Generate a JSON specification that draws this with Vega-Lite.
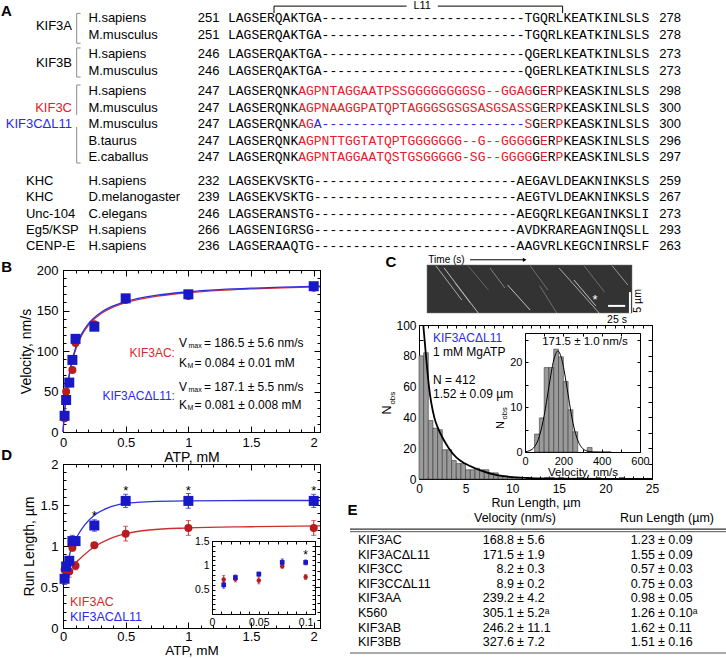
{
"$schema":"https://vega.github.io/schema/vega-lite/v6.json",
"width":726,"height":658,"padding":0,"autosize":{"type":"none"},"background":"#ffffff",
"config":{"view":{"stroke":null},"font":"Liberation Sans",
 "axis":{"grid":false,"labelFont":"Liberation Sans","titleFont":"Liberation Sans","labelColor":"#000","titleColor":"#000","domainColor":"#000","tickColor":"#000","titleFontWeight":"normal","labelOverlap":false,"labelFlush":false,"labelBound":false,"domainWidth":1,"tickWidth":1},
 "text":{"font":"Liberation Sans","color":"#000"}},
"resolve":{"scale":{"x":"independent","y":"independent"},"axis":{"x":"independent","y":"independent"}},
"datasets":{
"seqA":[
{"r":0,"c":0,"s":"LAGSERQAKTGA","k":"k"},{"r":0,"c":12,"s":"--------------------------","k":"k"},{"r":0,"c":38,"s":"TGQRLKEATKINLSLS","k":"k"},
{"r":1,"c":0,"s":"LAGSERQAKTGA","k":"k"},{"r":1,"c":12,"s":"--------------------------","k":"k"},{"r":1,"c":38,"s":"TGQRLKEATKINLSLS","k":"k"},
{"r":2,"c":0,"s":"LAGSERQAKTGA","k":"k"},{"r":2,"c":12,"s":"--------------------------","k":"k"},{"r":2,"c":38,"s":"QGERLKEATKINLSLS","k":"k"},
{"r":3,"c":0,"s":"LAGSERQAKTGA","k":"k"},{"r":3,"c":12,"s":"--------------------------","k":"k"},{"r":3,"c":38,"s":"QGERLKEATKINLSLS","k":"k"},
{"r":4,"c":0,"s":"LAGSERQNK","k":"k"},{"r":4,"c":9,"s":"AGPNTAGGAATPSSGGGGGGGGSG--GGAG","k":"r"},{"r":4,"c":39,"s":"G","k":"k"},{"r":4,"c":40,"s":"E","k":"r"},{"r":4,"c":41,"s":"R","k":"k"},{"r":4,"c":42,"s":"P","k":"r"},{"r":4,"c":43,"s":"KEASKINLSLS","k":"k"},
{"r":5,"c":0,"s":"LAGSERQNK","k":"k"},{"r":5,"c":9,"s":"AGPNAAGGPATQPTAGGGSGSGSASGSASS","k":"r"},{"r":5,"c":39,"s":"G","k":"k"},{"r":5,"c":40,"s":"E","k":"r"},{"r":5,"c":41,"s":"R","k":"k"},{"r":5,"c":42,"s":"P","k":"r"},{"r":5,"c":43,"s":"KEASKINLSLS","k":"k"},
{"r":6,"c":0,"s":"LAGSERQNK","k":"k"},{"r":6,"c":9,"s":"AG","k":"r"},{"r":6,"c":11,"s":"A","k":"b"},{"r":6,"c":12,"s":"--------------------------","k":"b"},{"r":6,"c":38,"s":"S","k":"r"},{"r":6,"c":39,"s":"G","k":"k"},{"r":6,"c":40,"s":"E","k":"r"},{"r":6,"c":41,"s":"R","k":"k"},{"r":6,"c":42,"s":"P","k":"r"},{"r":6,"c":43,"s":"KEASKINLSLS","k":"k"},
{"r":7,"c":0,"s":"LAGSERQNK","k":"k"},{"r":7,"c":9,"s":"AGPNTTGGTATQPTGGGGGGG--G--GGGG","k":"r"},{"r":7,"c":39,"s":"G","k":"k"},{"r":7,"c":40,"s":"E","k":"r"},{"r":7,"c":41,"s":"R","k":"k"},{"r":7,"c":42,"s":"P","k":"r"},{"r":7,"c":43,"s":"KEASKINLSLS","k":"k"},
{"r":8,"c":0,"s":"LAGSERQNK","k":"k"},{"r":8,"c":9,"s":"AGPNTAGGAATQSTGSGGGGG-SG--GGGG","k":"r"},{"r":8,"c":39,"s":"G","k":"k"},{"r":8,"c":40,"s":"E","k":"r"},{"r":8,"c":41,"s":"R","k":"k"},{"r":8,"c":42,"s":"P","k":"r"},{"r":8,"c":43,"s":"KEASKINLSLS","k":"k"},
{"r":9,"c":0,"s":"LAGSEKVSKTG","k":"k"},{"r":9,"c":11,"s":"--------------------------","k":"k"},{"r":9,"c":37,"s":"AEGAVLDEAKNINKSLS","k":"k"},
{"r":10,"c":0,"s":"LAGSEKVSKTG","k":"k"},{"r":10,"c":11,"s":"--------------------------","k":"k"},{"r":10,"c":37,"s":"AEGTVLDEAKNINKSLS","k":"k"},
{"r":11,"c":0,"s":"LAGSERANSTG","k":"k"},{"r":11,"c":11,"s":"--------------------------","k":"k"},{"r":11,"c":37,"s":"AEGQRLKEGANINKSLI","k":"k"},
{"r":12,"c":0,"s":"LAGSENIGRSG","k":"k"},{"r":12,"c":11,"s":"--------------------------","k":"k"},{"r":12,"c":37,"s":"AVDKRAREAGNINQSLL","k":"k"},
{"r":13,"c":0,"s":"LAGSERAAQTG","k":"k"},{"r":13,"c":11,"s":"--------------------------","k":"k"},{"r":13,"c":37,"s":"AAGVRLKEGCNINRSLF","k":"k"}],
"rowsA":[
{"r":0,"sp":"H.sapiens","st":"251","en":"278"},{"r":1,"sp":"M.musculus","st":"251","en":"278"},
{"r":2,"sp":"H.sapiens","st":"246","en":"273"},{"r":3,"sp":"M.musculus","st":"246","en":"273"},
{"r":4,"sp":"H.sapiens","st":"247","en":"298"},{"r":5,"sp":"M.musculus","st":"247","en":"300"},
{"r":6,"sp":"M.musculus","st":"247","en":"300"},{"r":7,"sp":"B.taurus","st":"247","en":"296"},
{"r":8,"sp":"E.caballus","st":"247","en":"297"},{"r":9,"sp":"H.sapiens","st":"232","en":"259"},
{"r":10,"sp":"D.melanogaster","st":"239","en":"267"},{"r":11,"sp":"C.elegans","st":"246","en":"273"},
{"r":12,"sp":"H.sapiens","st":"266","en":"293"},{"r":13,"sp":"H.sapiens","st":"236","en":"263"}],
"genesA":[
{"r":0.5,"g":"KIF3A","k":"k","grp":"t"},{"r":2.5,"g":"KIF3B","k":"k","grp":"t"},
{"r":5,"g":"KIF3C","k":"r","grp":"t"},{"r":6,"g":"KIF3CΔL11","k":"b","grp":"t"},
{"r":9,"g":"KHC","k":"k","grp":"l"},{"r":10,"g":"KHC","k":"k","grp":"l"},
{"r":11,"g":"Unc-104","k":"k","grp":"l"},{"r":12,"g":"Eg5/KSP","k":"k","grp":"l"},
{"r":13,"g":"CENP-E","k":"k","grp":"l"}],
"brA":[
{"x1":-19.4,"x2":-19.4,"y1":-0.28,"y2":1.45},{"x1":-19.4,"x2":-18.9,"y1":-0.28,"y2":-0.28},{"x1":-19.4,"x2":-18.9,"y1":1.45,"y2":1.45},
{"x1":-19.4,"x2":-19.4,"y1":1.69,"y2":3.3},{"x1":-19.4,"x2":-18.9,"y1":1.69,"y2":1.69},{"x1":-19.4,"x2":-18.9,"y1":3.3,"y2":3.3},
{"x1":-19.4,"x2":-19.4,"y1":3.7,"y2":5.45},{"x1":-19.4,"x2":-18.9,"y1":3.7,"y2":3.7},
{"x1":-19.4,"x2":-19.4,"y1":6.18,"y2":8.25},{"x1":-19.4,"x2":-18.9,"y1":8.25,"y2":8.25}],
"l11":[
{"x1":5.9,"x2":22.9,"y1":-0.72,"y2":-0.72},{"x1":26.9,"x2":42.9,"y1":-0.72,"y2":-0.72},
{"x1":5.9,"x2":5.9,"y1":-0.72,"y2":-0.3},{"x1":42.9,"x2":42.9,"y1":-0.72,"y2":-0.3}],
"ptsB":[{"atp":0.0125,"ac":17,"dl":20},{"atp":0.025,"ac":50,"dl":39.5},{"atp":0.05,"ac":60,"dl":61},{"atp":0.075,"ac":76.5,"dl":89},{"atp":0.1,"ac":110,"dl":115},{"atp":0.25,"ac":133,"dl":130},{"atp":0.5,"ac":163,"dl":165},{"atp":1,"ac":168,"dl":170},{"atp":2,"ac":178,"dl":180}],
"fitB":[{"s":0,"ac":0,"dl":0},{"s":0.005,"ac":10.5,"dl":10.9},{"s":0.01,"ac":19.8,"dl":20.6},{"s":0.02,"ac":35.9,"dl":37.0},{"s":0.03,"ac":49.1,"dl":50.6},{"s":0.05,"ac":69.6,"dl":71.4},{"s":0.075,"ac":88.0,"dl":90.0},{"s":0.1,"ac":101.4,"dl":103.4},{"s":0.15,"ac":119.6,"dl":121.5},{"s":0.2,"ac":131.3,"dl":133.2},{"s":0.3,"ac":145.7,"dl":147.3},{"s":0.4,"ac":154.1,"dl":155.6},{"s":0.5,"ac":159.7,"dl":161.0},{"s":0.75,"ac":167.7,"dl":168.9},{"s":1,"ac":172.0,"dl":173.1},{"s":1.25,"ac":174.8,"dl":175.7},{"s":1.5,"ac":176.6,"dl":177.5},{"s":1.75,"ac":178.0,"dl":178.8},{"s":2,"ac":179.0,"dl":179.8},{"s":2.05,"ac":179.2,"dl":180.0}],
"ptsD":[{"atp":0.0125,"ac":0.71,"acE":0.08,"dl":0.6,"dlE":0.07},{"atp":0.025,"ac":0.72,"acE":0.06,"dl":0.75,"dlE":0.05},{"atp":0.05,"ac":0.69,"acE":0.07,"dl":0.82,"dlE":0.04},{"atp":0.075,"ac":0.98,"acE":0.04,"dl":1.06,"dlE":0.07},{"atp":0.1,"ac":0.76,"acE":0.05,"dl":1.06,"dlE":0.05,"sig":1},{"atp":0.25,"ac":1.01,"acE":0.03,"dl":1.25,"dlE":0.07,"sig":1},{"atp":0.5,"ac":1.15,"acE":0.09,"dl":1.55,"dlE":0.08,"sig":1},{"atp":1,"ac":1.22,"acE":0.09,"dl":1.55,"dlE":0.09,"sig":1},{"atp":2,"ac":1.22,"acE":0.09,"dl":1.55,"dlE":0.08,"sig":1}],
"fitDr":[{"s":0,"v":0.7},{"s":0.016,"v":0.72},{"s":0.05,"v":0.75},{"s":0.109,"v":0.81},{"s":0.175,"v":0.9},{"s":0.25,"v":0.99},{"s":0.375,"v":1.09},{"s":0.5,"v":1.15},{"s":0.69,"v":1.195},{"s":1,"v":1.22},{"s":1.5,"v":1.235},{"s":2.05,"v":1.245}],
"fitDb":[{"s":0,"v":0.58},{"s":0.03,"v":0.75},{"s":0.07,"v":0.99},{"s":0.11,"v":1.11},{"s":0.175,"v":1.26},{"s":0.255,"v":1.38},{"s":0.35,"v":1.46},{"s":0.5,"v":1.52},{"s":0.7,"v":1.54},{"s":1,"v":1.55},{"s":1.5,"v":1.555},{"s":2.05,"v":1.555}],
"histC":[{"b":0,"e":0.5,"n":80},{"b":0.5,"e":1,"n":82},{"b":1,"e":1.5,"n":38},{"b":1.5,"e":2,"n":33},{"b":2,"e":2.5,"n":32},{"b":2.5,"e":3,"n":19},{"b":3,"e":3.5,"n":19},{"b":3.5,"e":4,"n":12},{"b":4,"e":4.5,"n":10},{"b":4.5,"e":5,"n":10},{"b":5,"e":5.5,"n":6},{"b":5.5,"e":6,"n":6},{"b":6,"e":6.5,"n":7},{"b":6.5,"e":7,"n":6},{"b":7,"e":7.5,"n":6},{"b":7.5,"e":8,"n":4},{"b":8,"e":8.5,"n":4},{"b":8.5,"e":9,"n":2},{"b":9,"e":9.5,"n":2},{"b":9.5,"e":10,"n":1},{"b":10,"e":10.5,"n":1},{"b":10.5,"e":11,"n":1},{"b":11.5,"e":12,"n":1},{"b":13.5,"e":14,"n":1},{"b":14,"e":14.5,"n":1},{"b":15,"e":15.5,"n":1},{"b":17,"e":17.5,"n":1},{"b":19,"e":19.5,"n":1},{"b":21.5,"e":22,"n":1}],
"expC":[{"x":0.46,"n":100},{"x":0.75,"n":80},{"x":1.07,"n":60},{"x":1.64,"n":40},{"x":2.04,"n":33},{"x":2.6,"n":26},{"x":3.2,"n":20},{"x":4,"n":14},{"x":4.94,"n":10},{"x":6,"n":7},{"x":6.9,"n":5},{"x":8,"n":3},{"x":8.9,"n":2},{"x":10,"n":1.2},{"x":12,"n":0.5},{"x":15,"n":0.2},{"x":20,"n":0.05},{"x":25,"n":0}],
"histCI":[{"b":50,"e":75,"n":4},{"b":75,"e":100,"n":7.6},{"b":100,"e":125,"n":18.8},{"b":125,"e":150,"n":18.8},{"b":150,"e":175,"n":22.9},{"b":175,"e":200,"n":21.2},{"b":200,"e":225,"n":15.7},{"b":225,"e":250,"n":9.4},{"b":250,"e":275,"n":4.5},{"b":325,"e":350,"n":1}],
"gaussCI":[{"v":0,"n":0.06},{"v":25,"n":0.31},{"v":50,"n":1.18},{"v":75,"n":3.5},{"v":100,"n":8.1},{"v":125,"n":14.6},{"v":150,"n":20.5},{"v":171.5,"n":22.5},{"v":195,"n":20.1},{"v":220,"n":14.1},{"v":245,"n":7.6},{"v":270,"n":3.2},{"v":295,"n":1.06},{"v":320,"n":0.27},{"v":350,"n":0.03},{"v":400,"n":0},{"v":450,"n":0}],
"streaks":[{"t1":13,"p1":0.2,"t2":51,"p2":8.4,"i":0.7},{"t1":25,"p1":0.7,"t2":75,"p2":11.5,"i":0.8},{"t1":41,"p1":4.3,"t2":63,"p2":9.1,"i":0.45},{"t1":92,"p1":0.7,"t2":114,"p2":5.5,"i":0.45},{"t1":118,"p1":4.8,"t2":151,"p2":10.8,"i":0.85},{"t1":193,"p1":0.7,"t2":252,"p2":11.5,"i":0.7},{"t1":215,"p1":3.6,"t2":247,"p2":9.8,"i":0.85},{"t1":271,"p1":0.2,"t2":294,"p2":4.8,"i":0.6},{"t1":151,"p1":0.2,"t2":177,"p2":6.0,"i":0.35},{"t1":60,"p1":0.2,"t2":90,"p2":6,"i":0.3},{"t1":165,"p1":5,"t2":190,"p2":11.5,"i":0.35},{"t1":230,"p1":0.2,"t2":260,"p2":6.5,"i":0.35}],
"barsK":[{"t1":265,"t2":290,"p1":9.8,"p2":9.8},{"t1":297,"t2":297,"p1":6.5,"p2":11.5}],
"tableE":[
{"i":0,"name":"KIF3AC","v1":"168.8","v2":"± 5.6","r1":"1.23","r2":"± 0.09"},
{"i":1,"name":"KIF3ACΔL11","v1":"171.5","v2":"± 1.9","r1":"1.55","r2":"± 0.09"},
{"i":2,"name":"KIF3CC","v1":"8.2","v2":"± 0.3","r1":"0.57","r2":"± 0.03"},
{"i":3,"name":"KIF3CCΔL11","v1":"8.9","v2":"± 0.2","r1":"0.75","r2":"± 0.03"},
{"i":4,"name":"KIF3AA","v1":"239.2","v2":"± 4.2","r1":"0.98","r2":"± 0.05"},
{"i":5,"name":"K560","v1":"305.1","v2":"± 5.2ᵃ","r1":"1.26","r2":"± 0.10ᵃ"},
{"i":6,"name":"KIF3AB","v1":"246.2","v2":"± 11.1","r1":"1.62","r2":"± 0.11"},
{"i":7,"name":"KIF3BB","v1":"327.6","v2":"± 7.2","r1":"1.51","r2":"± 0.16"}]
},
"layer":[
{"data":{"name":"seqA"},"mark":{"type":"text","align":"left","baseline":"middle","font":"Liberation Mono","fontSize":13},
 "encoding":{"x":{"field":"c","type":"quantitative","scale":{"domain":[0,54],"range":[228,649.2],"zero":false,"nice":false},"axis":null},
 "y":{"field":"r","type":"quantitative","scale":{"domain":[0,1,2,3,4,8,9,13],"range":[18,34.5,54,71,91,157,181,246],"zero":false,"nice":false},"axis":null},
 "text":{"field":"s"},"color":{"field":"k","type":"nominal","scale":{"domain":["k","r","b"],"range":["#000000","#e3202a","#2828f0"]},"legend":null}}},
{"data":{"name":"rowsA"},"mark":{"type":"text","align":"left","baseline":"middle","fontSize":13},
 "encoding":{"x":{"datum":-17.9,"type":"quantitative","scale":{"domain":[0,54],"range":[228,649.2],"zero":false,"nice":false},"axis":null},
 "y":{"field":"r","type":"quantitative","scale":{"domain":[0,1,2,3,4,8,9,13],"range":[18,34.5,54,71,91,157,181,246],"zero":false,"nice":false},"axis":null},"text":{"field":"sp"}}},
{"data":{"name":"rowsA"},"mark":{"type":"text","align":"right","baseline":"middle","fontSize":13},
 "encoding":{"x":{"datum":-1.1,"type":"quantitative","scale":{"domain":[0,54],"range":[228,649.2],"zero":false,"nice":false},"axis":null},
 "y":{"field":"r","type":"quantitative","scale":{"domain":[0,1,2,3,4,8,9,13],"range":[18,34.5,54,71,91,157,181,246],"zero":false,"nice":false},"axis":null},"text":{"field":"st"}}},
{"data":{"name":"rowsA"},"mark":{"type":"text","align":"left","baseline":"middle","fontSize":13},
 "encoding":{"x":{"datum":55.3,"type":"quantitative","scale":{"domain":[0,54],"range":[228,649.2],"zero":false,"nice":false},"axis":null},
 "y":{"field":"r","type":"quantitative","scale":{"domain":[0,1,2,3,4,8,9,13],"range":[18,34.5,54,71,91,157,181,246],"zero":false,"nice":false},"axis":null},"text":{"field":"en"}}},
{"data":{"name":"genesA"},"transform":[{"filter":"datum.grp == 't'"}],"mark":{"type":"text","align":"right","baseline":"middle","fontSize":13},
 "encoding":{"x":{"datum":-20,"type":"quantitative","scale":{"domain":[0,54],"range":[228,649.2],"zero":false,"nice":false},"axis":null},
 "y":{"field":"r","type":"quantitative","scale":{"domain":[0,1,2,3,4,8,9,13],"range":[18,34.5,54,71,91,157,181,246],"zero":false,"nice":false},"axis":null},"text":{"field":"g"},
 "color":{"field":"k","type":"nominal","scale":{"domain":["k","r","b"],"range":["#000000","#e3202a","#2828f0"]},"legend":null}}},
{"data":{"name":"genesA"},"transform":[{"filter":"datum.grp == 'l'"}],"mark":{"type":"text","align":"left","baseline":"middle","fontSize":13},
 "encoding":{"x":{"datum":-25.9,"type":"quantitative","scale":{"domain":[0,54],"range":[228,649.2],"zero":false,"nice":false},"axis":null},
 "y":{"field":"r","type":"quantitative","scale":{"domain":[0,1,2,3,4,8,9,13],"range":[18,34.5,54,71,91,157,181,246],"zero":false,"nice":false},"axis":null},"text":{"field":"g"}}},
{"data":{"name":"brA"},"mark":{"type":"rule","color":"#8a8a8a","strokeWidth":1},
 "encoding":{"x":{"field":"x1","type":"quantitative","scale":{"domain":[0,54],"range":[228,649.2],"zero":false,"nice":false},"axis":null},"x2":{"field":"x2"},
 "y":{"field":"y1","type":"quantitative","scale":{"domain":[0,1,2,3,4,8,9,13],"range":[18,34.5,54,71,91,157,181,246],"zero":false,"nice":false},"axis":null},"y2":{"field":"y2"}}},
{"data":{"name":"l11"},"mark":{"type":"rule","color":"#000","strokeWidth":1},
 "encoding":{"x":{"field":"x1","type":"quantitative","scale":{"domain":[0,54],"range":[228,649.2],"zero":false,"nice":false},"axis":null},"x2":{"field":"x2"},
 "y":{"field":"y1","type":"quantitative","scale":{"domain":[0,1,2,3,4,8,9,13],"range":[18,34.5,54,71,91,157,181,246],"zero":false,"nice":false},"axis":null},"y2":{"field":"y2"}}},
{"data":{"values":[{}]},"mark":{"type":"text","text":"L11","align":"center","baseline":"middle","fontSize":11},
 "encoding":{"x":{"datum":24.9,"type":"quantitative","scale":{"domain":[0,54],"range":[228,649.2],"zero":false,"nice":false},"axis":null},
 "y":{"datum":-0.735,"type":"quantitative","scale":{"domain":[0,1,2,3,4,8,9,13],"range":[18,34.5,54,71,91,157,181,246],"zero":false,"nice":false},"axis":null}}},
{"data":{"values":[{}]},"mark":{"type":"text","text":"A","align":"center","baseline":"middle","fontSize":15,"fontWeight":"bold"},
 "encoding":{"x":{"datum":-28.4,"type":"quantitative","scale":{"domain":[0,54],"range":[228,649.2],"zero":false,"nice":false},"axis":null},
 "y":{"datum":-0.4,"type":"quantitative","scale":{"domain":[0,1,2,3,4,8,9,13],"range":[18,34.5,54,71,91,157,181,246],"zero":false,"nice":false},"axis":null}}},

{"data":{"name":"fitB"},"mark":{"type":"line","color":"#d03030","strokeWidth":1.3,"interpolate":"monotone"},
 "encoding":{"x":{"field":"s","type":"quantitative","scale":{"domain":[0,2.05],"range":[63,320],"zero":false,"nice":false},"axis":{"orient":"bottom","offset":-226,"values":[0,0.1,0.2,0.3,0.4,0.5,0.6,0.7,0.8,0.9,1,1.1,1.2,1.3,1.4,1.5,1.6,1.7,1.8,1.9,2],"labels":false,"title":null,"tickSize":-3}},
 "y":{"field":"ac","type":"quantitative","scale":{"domain":[0,200],"range":[432,270],"zero":false,"nice":false},"axis":{"orient":"left","offset":-63,"values":[0,10,20,30,40,50,60,70,80,90,100,110,120,130,140,150,160,170,180,190,200],"labels":false,"title":null,"tickSize":-3}}}},
{"data":{"name":"fitB"},"mark":{"type":"line","color":"#2f2fe0","strokeWidth":1.3,"interpolate":"monotone"},
 "encoding":{"x":{"field":"s","type":"quantitative","scale":{"domain":[0,2.05],"range":[63,320],"zero":false,"nice":false},"axis":{"orient":"top","offset":-270,"values":[0,0.1,0.2,0.3,0.4,0.5,0.6,0.7,0.8,0.9,1,1.1,1.2,1.3,1.4,1.5,1.6,1.7,1.8,1.9,2],"labels":false,"title":null,"tickSize":-3}},
 "y":{"field":"dl","type":"quantitative","scale":{"domain":[0,200],"range":[432,270],"zero":false,"nice":false},"axis":{"orient":"right","offset":-406,"values":[0,10,20,30,40,50,60,70,80,90,100,110,120,130,140,150,160,170,180,190,200],"labels":false,"title":null,"tickSize":-3}}}},
{"data":{"name":"ptsB"},"mark":{"type":"point","shape":"circle","filled":true,"size":64,"color":"#b81c1e","opacity":1},
 "encoding":{"x":{"field":"atp","type":"quantitative","scale":{"domain":[0,2.05],"range":[63,320],"zero":false,"nice":false},"axis":{"orient":"bottom","offset":-226,"values":[0,0.5,1,1.5,2],"format":"~g","tickSize":-6,"labelPadding":10,"labelFontSize":13,"title":"ATP, mM","titleFontSize":14,"titlePadding":1}},
 "y":{"field":"ac","type":"quantitative","scale":{"domain":[0,200],"range":[432,270],"zero":false,"nice":false},"axis":{"orient":"left","offset":-63,"values":[0,50,100,150,200],"tickSize":-6,"labelPadding":11,"labelFontSize":13,"title":"Velocity, nm/s","titleFontSize":14,"titlePadding":3}}}},
{"data":{"name":"ptsB"},"mark":{"type":"point","shape":"square","filled":true,"size":100,"color":"#1818c6","opacity":1},
 "encoding":{"x":{"field":"atp","type":"quantitative","scale":{"domain":[0,2.05],"range":[63,320],"zero":false,"nice":false},"axis":{"orient":"top","offset":-270,"values":[0,0.5,1,1.5,2],"labels":false,"title":null,"tickSize":-6}},
 "y":{"field":"dl","type":"quantitative","scale":{"domain":[0,200],"range":[432,270],"zero":false,"nice":false},"axis":{"orient":"right","offset":-406,"values":[0,50,100,150,200],"labels":false,"title":null,"tickSize":-6}}}},
{"data":{"values":[{}]},"mark":{"type":"text","text":"KIF3AC:","align":"right","baseline":"middle","fontSize":12,"color":"#d42a2a"},
 "encoding":{"x":{"datum":0.893,"type":"quantitative","scale":{"domain":[0,2.05],"range":[63,320],"zero":false,"nice":false},"axis":null},"y":{"datum":97.5,"type":"quantitative","scale":{"domain":[0,200],"range":[432,270],"zero":false,"nice":false},"axis":null}}},
{"data":{"values":[{}]},"mark":{"type":"text","text":"V","align":"left","baseline":"middle","fontSize":12},
 "encoding":{"x":{"datum":0.925,"type":"quantitative","scale":{"domain":[0,2.05],"range":[63,320],"zero":false,"nice":false},"axis":null},"y":{"datum":109.9,"type":"quantitative","scale":{"domain":[0,200],"range":[432,270],"zero":false,"nice":false},"axis":null}}},
{"data":{"values":[{}]},"mark":{"type":"text","text":"max","align":"left","baseline":"middle","fontSize":7,"dx":9.5,"dy":3},
 "encoding":{"x":{"datum":0.925,"type":"quantitative","scale":{"domain":[0,2.05],"range":[63,320],"zero":false,"nice":false},"axis":null},"y":{"datum":109.9,"type":"quantitative","scale":{"domain":[0,200],"range":[432,270],"zero":false,"nice":false},"axis":null}}},
{"data":{"values":[{}]},"mark":{"type":"text","text":"= 186.5 ± 5.6 nm/s","align":"left","baseline":"middle","fontSize":12,"dx":25},
 "encoding":{"x":{"datum":0.925,"type":"quantitative","scale":{"domain":[0,2.05],"range":[63,320],"zero":false,"nice":false},"axis":null},"y":{"datum":109.9,"type":"quantitative","scale":{"domain":[0,200],"range":[432,270],"zero":false,"nice":false},"axis":null}}},
{"data":{"values":[{}]},"mark":{"type":"text","text":"K","align":"left","baseline":"middle","fontSize":12},
 "encoding":{"x":{"datum":0.925,"type":"quantitative","scale":{"domain":[0,2.05],"range":[63,320],"zero":false,"nice":false},"axis":null},"y":{"datum":85.2,"type":"quantitative","scale":{"domain":[0,200],"range":[432,270],"zero":false,"nice":false},"axis":null}}},
{"data":{"values":[{}]},"mark":{"type":"text","text":"M","align":"left","baseline":"middle","fontSize":7,"dx":8.5,"dy":3},
 "encoding":{"x":{"datum":0.925,"type":"quantitative","scale":{"domain":[0,2.05],"range":[63,320],"zero":false,"nice":false},"axis":null},"y":{"datum":85.2,"type":"quantitative","scale":{"domain":[0,200],"range":[432,270],"zero":false,"nice":false},"axis":null}}},
{"data":{"values":[{}]},"mark":{"type":"text","text":"= 0.084 ± 0.01 mM","align":"left","baseline":"middle","fontSize":12,"dx":15.5},
 "encoding":{"x":{"datum":0.925,"type":"quantitative","scale":{"domain":[0,2.05],"range":[63,320],"zero":false,"nice":false},"axis":null},"y":{"datum":85.2,"type":"quantitative","scale":{"domain":[0,200],"range":[432,270],"zero":false,"nice":false},"axis":null}}},
{"data":{"values":[{}]},"mark":{"type":"text","text":"KIF3ACΔL11:","align":"right","baseline":"middle","fontSize":12,"color":"#2a2aee"},
 "encoding":{"x":{"datum":0.893,"type":"quantitative","scale":{"domain":[0,2.05],"range":[63,320],"zero":false,"nice":false},"axis":null},"y":{"datum":44.4,"type":"quantitative","scale":{"domain":[0,200],"range":[432,270],"zero":false,"nice":false},"axis":null}}},
{"data":{"values":[{}]},"mark":{"type":"text","text":"V","align":"left","baseline":"middle","fontSize":12},
 "encoding":{"x":{"datum":0.925,"type":"quantitative","scale":{"domain":[0,2.05],"range":[63,320],"zero":false,"nice":false},"axis":null},"y":{"datum":55.6,"type":"quantitative","scale":{"domain":[0,200],"range":[432,270],"zero":false,"nice":false},"axis":null}}},
{"data":{"values":[{}]},"mark":{"type":"text","text":"max","align":"left","baseline":"middle","fontSize":7,"dx":9.5,"dy":3},
 "encoding":{"x":{"datum":0.925,"type":"quantitative","scale":{"domain":[0,2.05],"range":[63,320],"zero":false,"nice":false},"axis":null},"y":{"datum":55.6,"type":"quantitative","scale":{"domain":[0,200],"range":[432,270],"zero":false,"nice":false},"axis":null}}},
{"data":{"values":[{}]},"mark":{"type":"text","text":"= 187.1 ± 5.5 nm/s","align":"left","baseline":"middle","fontSize":12,"dx":25},
 "encoding":{"x":{"datum":0.925,"type":"quantitative","scale":{"domain":[0,2.05],"range":[63,320],"zero":false,"nice":false},"axis":null},"y":{"datum":55.6,"type":"quantitative","scale":{"domain":[0,200],"range":[432,270],"zero":false,"nice":false},"axis":null}}},
{"data":{"values":[{}]},"mark":{"type":"text","text":"K","align":"left","baseline":"middle","fontSize":12},
 "encoding":{"x":{"datum":0.925,"type":"quantitative","scale":{"domain":[0,2.05],"range":[63,320],"zero":false,"nice":false},"axis":null},"y":{"datum":33.3,"type":"quantitative","scale":{"domain":[0,200],"range":[432,270],"zero":false,"nice":false},"axis":null}}},
{"data":{"values":[{}]},"mark":{"type":"text","text":"M","align":"left","baseline":"middle","fontSize":7,"dx":8.5,"dy":3},
 "encoding":{"x":{"datum":0.925,"type":"quantitative","scale":{"domain":[0,2.05],"range":[63,320],"zero":false,"nice":false},"axis":null},"y":{"datum":33.3,"type":"quantitative","scale":{"domain":[0,200],"range":[432,270],"zero":false,"nice":false},"axis":null}}},
{"data":{"values":[{}]},"mark":{"type":"text","text":"= 0.081 ± 0.008 mM","align":"left","baseline":"middle","fontSize":12,"dx":15.5},
 "encoding":{"x":{"datum":0.925,"type":"quantitative","scale":{"domain":[0,2.05],"range":[63,320],"zero":false,"nice":false},"axis":null},"y":{"datum":33.3,"type":"quantitative","scale":{"domain":[0,200],"range":[432,270],"zero":false,"nice":false},"axis":null}}},
{"data":{"values":[{}]},"mark":{"type":"text","text":"B","align":"center","baseline":"middle","fontSize":15,"fontWeight":"bold"},
 "encoding":{"x":{"datum":-0.45,"type":"quantitative","scale":{"domain":[0,2.05],"range":[63,320],"zero":false,"nice":false},"axis":null},"y":{"datum":203.7,"type":"quantitative","scale":{"domain":[0,200],"range":[432,270],"zero":false,"nice":false},"axis":null}}},

{"data":{"values":[{}]},"mark":{"type":"rect","fill":"#333333","stroke":"#777","strokeWidth":0.5},
 "encoding":{"x":{"datum":0,"type":"quantitative","scale":{"domain":[0,300],"range":[427,632],"zero":false,"nice":false},"axis":null},"x2":{"datum":300},
 "y":{"datum":0,"type":"quantitative","scale":{"domain":[0,11.5],"range":[265,313],"zero":false,"nice":false},"axis":null},"y2":{"datum":11.5}}},
{"data":{"name":"streaks"},"mark":{"type":"rule","color":"#dcdcdc","strokeWidth":1},
 "encoding":{"x":{"field":"t1","type":"quantitative","scale":{"domain":[0,300],"range":[427,632],"zero":false,"nice":false},"axis":null},"x2":{"field":"t2"},
 "y":{"field":"p1","type":"quantitative","scale":{"domain":[0,11.5],"range":[265,313],"zero":false,"nice":false},"axis":null},"y2":{"field":"p2"},
 "opacity":{"field":"i","type":"quantitative","scale":{"domain":[0,1],"range":[0,1]},"legend":null}}},
{"data":{"name":"barsK"},"mark":{"type":"rule","color":"#ffffff","strokeWidth":2},
 "encoding":{"x":{"field":"t1","type":"quantitative","scale":{"domain":[0,300],"range":[427,632],"zero":false,"nice":false},"axis":null},"x2":{"field":"t2"},
 "y":{"field":"p1","type":"quantitative","scale":{"domain":[0,11.5],"range":[265,313],"zero":false,"nice":false},"axis":null},"y2":{"field":"p2"}}},
{"data":{"values":[{}]},"mark":{"type":"text","text":"*","align":"center","baseline":"middle","fontSize":13,"color":"#ffffff"},
 "encoding":{"x":{"datum":246,"type":"quantitative","scale":{"domain":[0,300],"range":[427,632],"zero":false,"nice":false},"axis":null},"y":{"datum":8.4,"type":"quantitative","scale":{"domain":[0,11.5],"range":[265,313],"zero":false,"nice":false},"axis":null}}},
{"data":{"values":[{}]},"mark":{"type":"text","text":"Time (s)","align":"left","baseline":"middle","fontSize":10},
 "encoding":{"x":{"datum":2,"type":"quantitative","scale":{"domain":[0,300],"range":[427,632],"zero":false,"nice":false},"axis":null},"y":{"datum":-1.25,"type":"quantitative","scale":{"domain":[0,11.5],"range":[265,313],"zero":false,"nice":false},"axis":null}}},
{"data":{"values":[{}]},"mark":{"type":"rule","color":"#000","strokeWidth":1},
 "encoding":{"x":{"datum":63,"type":"quantitative","scale":{"domain":[0,300],"range":[427,632],"zero":false,"nice":false},"axis":null},"x2":{"datum":141},"y":{"datum":-1.25,"type":"quantitative","scale":{"domain":[0,11.5],"range":[265,313],"zero":false,"nice":false},"axis":null}}},
{"data":{"values":[{}]},"mark":{"type":"point","shape":"triangle-right","filled":true,"size":18,"color":"#000","opacity":1},
 "encoding":{"x":{"datum":143,"type":"quantitative","scale":{"domain":[0,300],"range":[427,632],"zero":false,"nice":false},"axis":null},"y":{"datum":-1.25,"type":"quantitative","scale":{"domain":[0,11.5],"range":[265,313],"zero":false,"nice":false},"axis":null}}},
{"data":{"values":[{}]},"mark":{"type":"text","text":"25 s","align":"center","baseline":"middle","fontSize":10.5},
 "encoding":{"x":{"datum":278,"type":"quantitative","scale":{"domain":[0,300],"range":[427,632],"zero":false,"nice":false},"axis":null},"y":{"datum":13.2,"type":"quantitative","scale":{"domain":[0,11.5],"range":[265,313],"zero":false,"nice":false},"axis":null}}},
{"data":{"values":[{}]},"mark":{"type":"text","text":"5 µm","align":"center","baseline":"middle","fontSize":10.5,"angle":270},
 "encoding":{"x":{"datum":309,"type":"quantitative","scale":{"domain":[0,300],"range":[427,632],"zero":false,"nice":false},"axis":null},"y":{"datum":8.6,"type":"quantitative","scale":{"domain":[0,11.5],"range":[265,313],"zero":false,"nice":false},"axis":null}}},
{"data":{"values":[{}]},"mark":{"type":"text","text":"C","align":"center","baseline":"middle","fontSize":15,"fontWeight":"bold"},
 "encoding":{"x":{"datum":-52.7,"type":"quantitative","scale":{"domain":[0,300],"range":[427,632],"zero":false,"nice":false},"axis":null},"y":{"datum":-0.72,"type":"quantitative","scale":{"domain":[0,11.5],"range":[265,313],"zero":false,"nice":false},"axis":null}}},

{"data":{"name":"histC"},"mark":{"type":"rect","fill":"#9a9a9a","stroke":"#3a3a3a","strokeWidth":0.6},
 "encoding":{"x":{"field":"b","type":"quantitative","scale":{"domain":[0,25],"range":[419,652],"zero":false,"nice":false},"axis":{"orient":"bottom","offset":-179,"values":[0,1,2,3,4,5,6,7,8,9,10,11,12,13,14,15,16,17,18,19,20,21,22,23,24,25],"labelExpr":"datum.value % 5 == 0 ? datum.label : ''","tickSize":-3,"labelPadding":7,"labelFontSize":12,"title":"Run Length, µm","titleFontSize":12.5,"titlePadding":2}},"x2":{"field":"e"},
 "y":{"field":"n","type":"quantitative","scale":{"domain":[0,100],"range":[479,325],"zero":false,"nice":false},"axis":{"orient":"left","offset":-419,"values":[0,10,20,30,40,50,60,70,80,90,100],"labelExpr":"datum.value % 20 == 0 ? datum.label : ''","tickSize":-4,"labelPadding":7,"labelFontSize":12,"title":null}},"y2":{"datum":0}}},
{"data":{"name":"expC"},"mark":{"type":"line","color":"#000","strokeWidth":1.8,"interpolate":"monotone"},
 "encoding":{"x":{"field":"x","type":"quantitative","scale":{"domain":[0,25],"range":[419,652],"zero":false,"nice":false},"axis":{"orient":"top","offset":-325,"values":[0,1,2,3,4,5,6,7,8,9,10,11,12,13,14,15,16,17,18,19,20,21,22,23,24,25],"labels":false,"title":null,"tickSize":-3}},
 "y":{"field":"n","type":"quantitative","scale":{"domain":[0,100],"range":[479,325],"zero":false,"nice":false},"axis":{"orient":"right","offset":-74,"values":[0,10,20,30,40,50,60,70,80,90,100],"labels":false,"title":null,"tickSize":-4}}}},
{"data":{"values":[{}]},"mark":{"type":"text","text":"N","align":"center","baseline":"middle","fontSize":12.5,"angle":270},
 "encoding":{"x":{"datum":-3.43,"type":"quantitative","scale":{"domain":[0,25],"range":[419,652],"zero":false,"nice":false},"axis":null},"y":{"datum":44.8,"type":"quantitative","scale":{"domain":[0,100],"range":[479,325],"zero":false,"nice":false},"axis":null}}},
{"data":{"values":[{}]},"mark":{"type":"text","text":"obs","align":"center","baseline":"middle","fontSize":8,"angle":270},
 "encoding":{"x":{"datum":-2.84,"type":"quantitative","scale":{"domain":[0,25],"range":[419,652],"zero":false,"nice":false},"axis":null},"y":{"datum":52.5,"type":"quantitative","scale":{"domain":[0,100],"range":[479,325],"zero":false,"nice":false},"axis":null}}},
{"data":{"values":[{}]},"mark":{"type":"text","text":"KIF3ACΔL11","align":"left","baseline":"middle","fontSize":12,"color":"#2a2aee"},
 "encoding":{"x":{"datum":1.5,"type":"quantitative","scale":{"domain":[0,25],"range":[419,652],"zero":false,"nice":false},"axis":null},"y":{"datum":91.6,"type":"quantitative","scale":{"domain":[0,100],"range":[479,325],"zero":false,"nice":false},"axis":null}}},
{"data":{"values":[{}]},"mark":{"type":"text","text":"1 mM MgATP","align":"left","baseline":"middle","fontSize":12},
 "encoding":{"x":{"datum":1.5,"type":"quantitative","scale":{"domain":[0,25],"range":[419,652],"zero":false,"nice":false},"axis":null},"y":{"datum":82.5,"type":"quantitative","scale":{"domain":[0,100],"range":[479,325],"zero":false,"nice":false},"axis":null}}},
{"data":{"values":[{}]},"mark":{"type":"text","text":"N = 412","align":"left","baseline":"middle","fontSize":12},
 "encoding":{"x":{"datum":1.5,"type":"quantitative","scale":{"domain":[0,25],"range":[419,652],"zero":false,"nice":false},"axis":null},"y":{"datum":64.3,"type":"quantitative","scale":{"domain":[0,100],"range":[479,325],"zero":false,"nice":false},"axis":null}}},
{"data":{"values":[{}]},"mark":{"type":"text","text":"1.52 ± 0.09 µm","align":"left","baseline":"middle","fontSize":12},
 "encoding":{"x":{"datum":1.5,"type":"quantitative","scale":{"domain":[0,25],"range":[419,652],"zero":false,"nice":false},"axis":null},"y":{"datum":55.2,"type":"quantitative","scale":{"domain":[0,100],"range":[479,325],"zero":false,"nice":false},"axis":null}}},

{"data":{"name":"histCI"},"mark":{"type":"rect","fill":"#9a9a9a","stroke":"#3a3a3a","strokeWidth":0.6},
 "encoding":{"x":{"field":"b","type":"quantitative","scale":{"domain":[0,600],"range":[525,640],"zero":false,"nice":false},"axis":{"orient":"bottom","offset":-206,"values":[0,100,200,300,400,500,600],"labelExpr":"datum.value % 200 == 0 ? datum.label : ''","tickSize":-3,"labelPadding":6,"labelFontSize":11,"title":"Velocity, nm/s","titleFontSize":11.5,"titlePadding":0}},"x2":{"field":"e"},
 "y":{"field":"n","type":"quantitative","scale":{"domain":[0,26.5],"range":[452,333],"zero":false,"nice":false},"axis":{"orient":"left","offset":-525,"values":[0,5,10,15,20,25],"labelExpr":"datum.value % 10 == 0 ? datum.label : ''","tickSize":-3,"labelPadding":6,"labelFontSize":11,"title":null}},"y2":{"datum":0}}},
{"data":{"name":"gaussCI"},"mark":{"type":"line","color":"#000","strokeWidth":1,"interpolate":"monotone"},
 "encoding":{"x":{"field":"v","type":"quantitative","scale":{"domain":[0,600],"range":[525,640],"zero":false,"nice":false},"axis":{"orient":"top","offset":-333,"values":[0,100,200,300,400,500,600],"labels":false,"title":null,"tickSize":-3}},
 "y":{"field":"n","type":"quantitative","scale":{"domain":[0,26.5],"range":[452,333],"zero":false,"nice":false},"axis":{"orient":"right","offset":-86,"values":[0,5,10,15,20,25],"labels":false,"title":null,"tickSize":-3}}}},
{"data":{"values":[{}]},"mark":{"type":"text","text":"171.5 ± 1.0 nm/s","align":"center","baseline":"middle","fontSize":11.5},
 "encoding":{"x":{"datum":313,"type":"quantitative","scale":{"domain":[0,600],"range":[525,640],"zero":false,"nice":false},"axis":null},"y":{"datum":24.5,"type":"quantitative","scale":{"domain":[0,26.5],"range":[452,333],"zero":false,"nice":false},"axis":null}}},
{"data":{"values":[{}]},"mark":{"type":"text","text":"N","align":"center","baseline":"middle","fontSize":11,"angle":270},
 "encoding":{"x":{"datum":-125,"type":"quantitative","scale":{"domain":[0,600],"range":[525,640],"zero":false,"nice":false},"axis":null},"y":{"datum":6.0,"type":"quantitative","scale":{"domain":[0,26.5],"range":[452,333],"zero":false,"nice":false},"axis":null}}},
{"data":{"values":[{}]},"mark":{"type":"text","text":"obs","align":"center","baseline":"middle","fontSize":7.5,"angle":270},
 "encoding":{"x":{"datum":-102,"type":"quantitative","scale":{"domain":[0,600],"range":[525,640],"zero":false,"nice":false},"axis":null},"y":{"datum":8.6,"type":"quantitative","scale":{"domain":[0,26.5],"range":[452,333],"zero":false,"nice":false},"axis":null}}},

{"data":{"name":"fitDr"},"mark":{"type":"line","color":"#c83030","strokeWidth":1.3,"interpolate":"monotone"},
 "encoding":{"x":{"field":"s","type":"quantitative","scale":{"domain":[0,2.05],"range":[63,320],"zero":false,"nice":false},"axis":{"orient":"bottom","offset":-30,"values":[0,0.1,0.2,0.3,0.4,0.5,0.6,0.7,0.8,0.9,1,1.1,1.2,1.3,1.4,1.5,1.6,1.7,1.8,1.9,2],"labels":false,"title":null,"tickSize":-3}},
 "y":{"field":"v","type":"quantitative","scale":{"domain":[0,2],"range":[628,464],"zero":false,"nice":false},"axis":{"orient":"left","offset":-63,"values":[0,0.1,0.2,0.3,0.4,0.5,0.6,0.7,0.8,0.9,1,1.1,1.2,1.3,1.4,1.5,1.6,1.7,1.8,1.9,2],"labels":false,"title":null,"tickSize":-3}}}},
{"data":{"name":"fitDb"},"mark":{"type":"line","color":"#2f2fe0","strokeWidth":1.3,"interpolate":"monotone"},
 "encoding":{"x":{"field":"s","type":"quantitative","scale":{"domain":[0,2.05],"range":[63,320],"zero":false,"nice":false},"axis":{"orient":"top","offset":-464,"values":[0,0.1,0.2,0.3,0.4,0.5,0.6,0.7,0.8,0.9,1,1.1,1.2,1.3,1.4,1.5,1.6,1.7,1.8,1.9,2],"labels":false,"title":null,"tickSize":-3}},
 "y":{"field":"v","type":"quantitative","scale":{"domain":[0,2],"range":[628,464],"zero":false,"nice":false},"axis":{"orient":"right","offset":-406,"values":[0,0.1,0.2,0.3,0.4,0.5,0.6,0.7,0.8,0.9,1,1.1,1.2,1.3,1.4,1.5,1.6,1.7,1.8,1.9,2],"labels":false,"title":null,"tickSize":-3}}}},
{"data":{"name":"ptsD"},"mark":{"type":"errorbar","ticks":{"size":5,"color":"#c02626"},"rule":{"color":"#c02626"}},
 "encoding":{"x":{"field":"atp","type":"quantitative","scale":{"domain":[0,2.05],"range":[63,320],"zero":false,"nice":false},"axis":null},
 "y":{"field":"ac","type":"quantitative","scale":{"domain":[0,2],"range":[628,464],"zero":false,"nice":false},"axis":null},"yError":{"field":"acE"}}},
{"data":{"name":"ptsD"},"mark":{"type":"errorbar","ticks":{"size":5,"color":"#2020d8"},"rule":{"color":"#2020d8"}},
 "encoding":{"x":{"field":"atp","type":"quantitative","scale":{"domain":[0,2.05],"range":[63,320],"zero":false,"nice":false},"axis":null},
 "y":{"field":"dl","type":"quantitative","scale":{"domain":[0,2],"range":[628,464],"zero":false,"nice":false},"axis":null},"yError":{"field":"dlE"}}},
{"data":{"name":"ptsD"},"mark":{"type":"point","shape":"circle","filled":true,"size":64,"color":"#b81c1e","opacity":1},
 "encoding":{"x":{"field":"atp","type":"quantitative","scale":{"domain":[0,2.05],"range":[63,320],"zero":false,"nice":false},"axis":{"orient":"bottom","offset":-30,"values":[0,0.5,1,1.5,2],"format":"~g","tickSize":-6,"labelPadding":8.5,"labelFontSize":13,"title":"ATP, mM","titleFontSize":13.5,"titlePadding":0}},
 "y":{"field":"ac","type":"quantitative","scale":{"domain":[0,2],"range":[628,464],"zero":false,"nice":false},"axis":{"orient":"left","offset":-63,"values":[0,0.5,1,1.5,2],"format":"~g","tickSize":-6,"labelPadding":11,"labelFontSize":13,"title":"Run Length, µm","titleFontSize":14,"titlePadding":3}}}},
{"data":{"name":"ptsD"},"mark":{"type":"point","shape":"square","filled":true,"size":100,"color":"#1818c6","opacity":1},
 "encoding":{"x":{"field":"atp","type":"quantitative","scale":{"domain":[0,2.05],"range":[63,320],"zero":false,"nice":false},"axis":{"orient":"top","offset":-464,"values":[0,0.5,1,1.5,2],"labels":false,"title":null,"tickSize":-6}},
 "y":{"field":"dl","type":"quantitative","scale":{"domain":[0,2],"range":[628,464],"zero":false,"nice":false},"axis":{"orient":"right","offset":-406,"values":[0,0.5,1,1.5,2],"labels":false,"title":null,"tickSize":-6}}}},
{"data":{"name":"ptsD"},"transform":[{"filter":"datum.atp >= 0.25"}],"mark":{"type":"text","text":"*","align":"center","baseline":"middle","fontSize":13,"dy":-10},
 "encoding":{"x":{"field":"atp","type":"quantitative","scale":{"domain":[0,2.05],"range":[63,320],"zero":false,"nice":false},"axis":null},
 "y":{"field":"dl","type":"quantitative","scale":{"domain":[0,2],"range":[628,464],"zero":false,"nice":false},"axis":null}}},
{"data":{"values":[{}]},"mark":{"type":"text","text":"KIF3AC","align":"left","baseline":"middle","fontSize":12.5,"color":"#d42a2a"},
 "encoding":{"x":{"datum":0.056,"type":"quantitative","scale":{"domain":[0,2.05],"range":[63,320],"zero":false,"nice":false},"axis":null},"y":{"datum":0.32,"type":"quantitative","scale":{"domain":[0,2],"range":[628,464],"zero":false,"nice":false},"axis":null}}},
{"data":{"values":[{}]},"mark":{"type":"text","text":"KIF3ACΔL11","align":"left","baseline":"middle","fontSize":12.5,"color":"#2a2aee"},
 "encoding":{"x":{"datum":0.056,"type":"quantitative","scale":{"domain":[0,2.05],"range":[63,320],"zero":false,"nice":false},"axis":null},"y":{"datum":0.134,"type":"quantitative","scale":{"domain":[0,2],"range":[628,464],"zero":false,"nice":false},"axis":null}}},
{"data":{"values":[{}]},"mark":{"type":"text","text":"D","align":"center","baseline":"middle","fontSize":15,"fontWeight":"bold"},
 "encoding":{"x":{"datum":-0.45,"type":"quantitative","scale":{"domain":[0,2.05],"range":[63,320],"zero":false,"nice":false},"axis":null},"y":{"datum":2.11,"type":"quantitative","scale":{"domain":[0,2],"range":[628,464],"zero":false,"nice":false},"axis":null}}},

{"data":{"name":"ptsD"},"transform":[{"filter":"datum.atp <= 0.1"}],"mark":{"type":"errorbar","ticks":{"size":3,"color":"#c02626"},"rule":{"color":"#c02626"}},
 "encoding":{"x":{"field":"atp","type":"quantitative","scale":{"domain":[0,0.11],"range":[212,315],"zero":false,"nice":false},"axis":null},
 "y":{"field":"ac","type":"quantitative","scale":{"domain":[0,1.5],"range":[614,541],"zero":false,"nice":false},"axis":null},"yError":{"field":"acE"}}},
{"data":{"name":"ptsD"},"transform":[{"filter":"datum.atp <= 0.1"}],"mark":{"type":"errorbar","ticks":{"size":3,"color":"#2020d8"},"rule":{"color":"#2020d8"}},
 "encoding":{"x":{"field":"atp","type":"quantitative","scale":{"domain":[0,0.11],"range":[212,315],"zero":false,"nice":false},"axis":null},
 "y":{"field":"dl","type":"quantitative","scale":{"domain":[0,1.5],"range":[614,541],"zero":false,"nice":false},"axis":null},"yError":{"field":"dlE"}}},
{"data":{"name":"ptsD"},"transform":[{"filter":"datum.atp <= 0.1"}],"mark":{"type":"point","shape":"circle","filled":true,"size":20,"color":"#b81c1e","opacity":1},
 "encoding":{"x":{"field":"atp","type":"quantitative","scale":{"domain":[0,0.11],"range":[212,315],"zero":false,"nice":false},"axis":{"orient":"bottom","offset":-44,"values":[0,0.01,0.02,0.03,0.04,0.05,0.06,0.07,0.08,0.09,0.1,0.11],"format":"~g","labelExpr":"(datum.value == 0 || datum.value == 0.05 || datum.value == 0.1) ? datum.label : ''","tickSize":-3,"labelPadding":6,"labelFontSize":10.5,"title":null}},
 "y":{"field":"ac","type":"quantitative","scale":{"domain":[0,1.5],"range":[614,541],"zero":false,"nice":false},"axis":{"orient":"left","offset":-212,"values":[0,0.1,0.2,0.3,0.4,0.5,0.6,0.7,0.8,0.9,1,1.1,1.2,1.3,1.4,1.5],"format":"~g","labelExpr":"(datum.value == 0.5 || datum.value == 1 || datum.value == 1.5) ? datum.label : ''","tickSize":-3,"labelPadding":6,"labelFontSize":10.5,"title":null}}}},
{"data":{"name":"ptsD"},"transform":[{"filter":"datum.atp <= 0.1"}],"mark":{"type":"point","shape":"square","filled":true,"size":22,"color":"#1818c6","opacity":1},
 "encoding":{"x":{"field":"atp","type":"quantitative","scale":{"domain":[0,0.11],"range":[212,315],"zero":false,"nice":false},"axis":{"orient":"top","offset":-541,"values":[0,0.01,0.02,0.03,0.04,0.05,0.06,0.07,0.08,0.09,0.1,0.11],"labels":false,"title":null,"tickSize":-3}},
 "y":{"field":"dl","type":"quantitative","scale":{"domain":[0,1.5],"range":[614,541],"zero":false,"nice":false},"axis":{"orient":"right","offset":-411,"values":[0,0.1,0.2,0.3,0.4,0.5,0.6,0.7,0.8,0.9,1,1.1,1.2,1.3,1.4,1.5],"labels":false,"title":null,"tickSize":-3}}}},
{"data":{"name":"ptsD"},"transform":[{"filter":"datum.atp == 0.1"}],"mark":{"type":"text","text":"*","align":"center","baseline":"middle","fontSize":12,"dy":-7},
 "encoding":{"x":{"field":"atp","type":"quantitative","scale":{"domain":[0,0.11],"range":[212,315],"zero":false,"nice":false},"axis":null},
 "y":{"field":"dl","type":"quantitative","scale":{"domain":[0,1.5],"range":[614,541],"zero":false,"nice":false},"axis":null}}},

{"data":{"values":[{}]},"mark":{"type":"rule","color":"#333","strokeWidth":1.3},
 "encoding":{"x":{"datum":0,"type":"quantitative","scale":{"domain":[0,1],"range":[350,726],"zero":false,"nice":false},"axis":null},"x2":{"datum":1},"y":{"datum":-0.75,"type":"quantitative","scale":{"domain":[0,7],"range":[540,642.2],"zero":false,"nice":false},"axis":null}}},
{"data":{"values":[{}]},"mark":{"type":"rule","color":"#555","strokeWidth":1},
 "encoding":{"x":{"datum":0,"type":"quantitative","scale":{"domain":[0,1],"range":[350,726],"zero":false,"nice":false},"axis":null},"x2":{"datum":1},"y":{"datum":-0.57,"type":"quantitative","scale":{"domain":[0,7],"range":[540,642.2],"zero":false,"nice":false},"axis":null}}},
{"data":{"values":[{}]},"mark":{"type":"rule","color":"#555","strokeWidth":1.2},
 "encoding":{"x":{"datum":0,"type":"quantitative","scale":{"domain":[0,1],"range":[350,726],"zero":false,"nice":false},"axis":null},"x2":{"datum":1},"y":{"datum":7.74,"type":"quantitative","scale":{"domain":[0,7],"range":[540,642.2],"zero":false,"nice":false},"axis":null}}},
{"data":{"values":[{}]},"mark":{"type":"text","text":"Velocity (nm/s)","align":"center","baseline":"middle","fontSize":12.5},
 "encoding":{"x":{"datum":0.4388,"type":"quantitative","scale":{"domain":[0,1],"range":[350,726],"zero":false,"nice":false},"axis":null},"y":{"datum":-1.5,"type":"quantitative","scale":{"domain":[0,7],"range":[540,642.2],"zero":false,"nice":false},"axis":null}}},
{"data":{"values":[{}]},"mark":{"type":"text","text":"Run Length (µm)","align":"center","baseline":"middle","fontSize":12.5},
 "encoding":{"x":{"datum":0.843,"type":"quantitative","scale":{"domain":[0,1],"range":[350,726],"zero":false,"nice":false},"axis":null},"y":{"datum":-1.5,"type":"quantitative","scale":{"domain":[0,7],"range":[540,642.2],"zero":false,"nice":false},"axis":null}}},
{"data":{"name":"tableE"},"mark":{"type":"text","align":"left","baseline":"middle","fontSize":12.5},
 "encoding":{"x":{"datum":0.0213,"type":"quantitative","scale":{"domain":[0,1],"range":[350,726],"zero":false,"nice":false},"axis":null},"y":{"field":"i","type":"quantitative","scale":{"domain":[0,7],"range":[540,642.2],"zero":false,"nice":false},"axis":null},"text":{"field":"name"}}},
{"data":{"name":"tableE"},"mark":{"type":"text","align":"right","baseline":"middle","fontSize":12.5},
 "encoding":{"x":{"datum":0.4362,"type":"quantitative","scale":{"domain":[0,1],"range":[350,726],"zero":false,"nice":false},"axis":null},"y":{"field":"i","type":"quantitative","scale":{"domain":[0,7],"range":[540,642.2],"zero":false,"nice":false},"axis":null},"text":{"field":"v1"}}},
{"data":{"name":"tableE"},"mark":{"type":"text","align":"left","baseline":"middle","fontSize":12.5},
 "encoding":{"x":{"datum":0.4441,"type":"quantitative","scale":{"domain":[0,1],"range":[350,726],"zero":false,"nice":false},"axis":null},"y":{"field":"i","type":"quantitative","scale":{"domain":[0,7],"range":[540,642.2],"zero":false,"nice":false},"axis":null},"text":{"field":"v2"}}},
{"data":{"name":"tableE"},"mark":{"type":"text","align":"right","baseline":"middle","fontSize":12.5},
 "encoding":{"x":{"datum":0.8112,"type":"quantitative","scale":{"domain":[0,1],"range":[350,726],"zero":false,"nice":false},"axis":null},"y":{"field":"i","type":"quantitative","scale":{"domain":[0,7],"range":[540,642.2],"zero":false,"nice":false},"axis":null},"text":{"field":"r1"}}},
{"data":{"name":"tableE"},"mark":{"type":"text","align":"left","baseline":"middle","fontSize":12.5},
 "encoding":{"x":{"datum":0.8191,"type":"quantitative","scale":{"domain":[0,1],"range":[350,726],"zero":false,"nice":false},"axis":null},"y":{"field":"i","type":"quantitative","scale":{"domain":[0,7],"range":[540,642.2],"zero":false,"nice":false},"axis":null},"text":{"field":"r2"}}},
{"data":{"values":[{}]},"mark":{"type":"text","text":"E","align":"center","baseline":"middle","fontSize":15,"fontWeight":"bold"},
 "encoding":{"x":{"datum":0.0066,"type":"quantitative","scale":{"domain":[0,1],"range":[350,726],"zero":false,"nice":false},"axis":null},"y":{"datum":-2.05,"type":"quantitative","scale":{"domain":[0,7],"range":[540,642.2],"zero":false,"nice":false},"axis":null}}}
]
}
